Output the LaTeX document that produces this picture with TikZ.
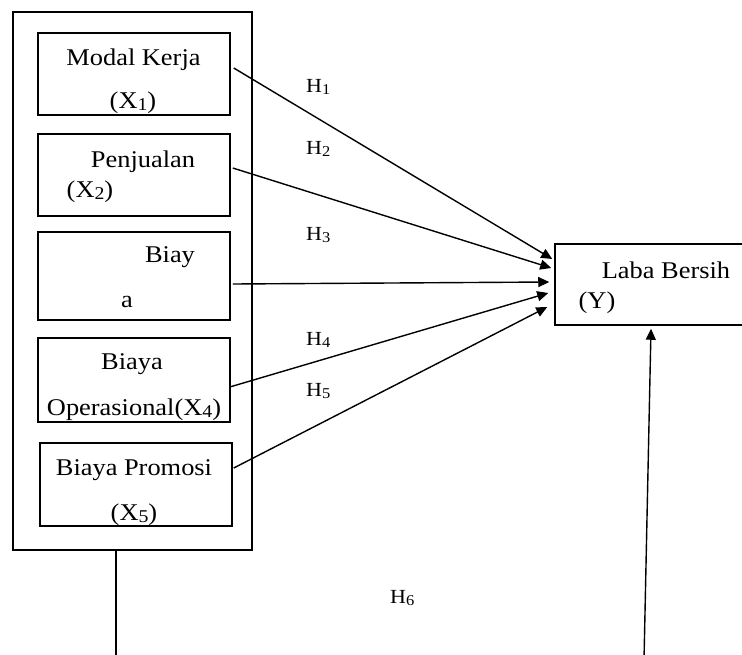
\documentclass[tikz,border=0pt]{standalone}
\usepackage{fontspec}
\usepackage{graphicx}
\setmainfont{Liberation Serif}[FakeStretch=1.1]
\usetikzlibrary{arrows.meta,calc}

% small lowered index digit, as in X1 or H1
\newcommand{\subidx}[1]{\raisebox{-0.12em}{\scalebox{0.75}{#1}}}

\tikzset{
  frame/.style={draw, line width=1.5pt, inner sep=0pt, rectangle},
  lbl/.style={anchor=base, inner sep=0pt, font=\fontsize{24}{28}\selectfont},
  hyp/.style={anchor=base west, inner sep=0pt, font=\fontsize{20}{24}\selectfont},
  link/.style={line width=1.4pt, -{Triangle[length=11pt,width=10pt]}},
  plain/.style={line width=1.5pt}
}

\begin{document}
\begin{tikzpicture}[x=1pt,y=-1pt]
\useasboundingbox (0,0) rectangle (742,654);
\clip (0,0) rectangle (742,654);
\fill[white] (0,0) rectangle (742,654);

% group frame and the five variable boxes
\node[frame, minimum width=239pt, minimum height=538pt] (grp) at (132.5,281) {};
\node[frame, minimum width=192pt, minimum height=82pt] (b1) at (134,74) {};
\node[frame, minimum width=192pt, minimum height=82pt] (b2) at (134,175) {};
\node[frame, minimum width=192pt, minimum height=88pt] (b3) at (134,276) {};
\node[frame, minimum width=192pt, minimum height=84pt] (b4) at (134,380) {};
\node[frame, minimum width=192pt, minimum height=83pt] (b5) at (136,484.5) {};

% dependent variable box (runs past the right edge)
\node[frame, minimum width=205pt, minimum height=81pt] (lb) at (657.5,284.5) {};

% box texts
\node[lbl] (t1a) at (133.5,65) {Modal Kerja};
\node[lbl] (t1b) at (133,108) {(X\subidx{1})};
\node[lbl] (t2a) at (143,167) {Penjualan};
\node[lbl] (t2b) at (90,197) {(X\subidx{2})};
\node[lbl] (t3a) at (170,262) {Biay};
\node[lbl] (t3b) at (127,307) {a};
\node[lbl] (t4a) at (132,369) {Biaya};
\node[lbl] (t4b) at (134,415) {Operasional(X\subidx{4})};
\node[lbl] (t5a) at (134,475) {Biaya Promosi};
\node[lbl] (t5b) at (134,520) {(X\subidx{5})};
\node[lbl] (tya) at (666,278) {Laba Bersih};
\node[lbl] (tyb) at (597,308) {(Y)};

% hypothesis labels
\node[hyp] (h1) at (306,92) {H\subidx{1}};
\node[hyp] (h2) at (306,154) {H\subidx{2}};
\node[hyp] (h3) at (306,240) {H\subidx{3}};
\node[hyp] (h4) at (306,345) {H\subidx{4}};
\node[hyp] (h5) at (306,396) {H\subidx{5}};
\node[hyp] (h6) at (390,603) {H\subidx{6}};

% partial effects
\draw[link] ($(b1.east)+(3,-6)$) -- ($(lb.west)+(-2,-25.5)$);
\draw[link] ($(b2.east)+(2,-7)$) -- ($(lb.west)+(-3,-16.5)$);
\draw[link] ($(b3.east)+(2,8)$) -- ($(lb.west)+(-5,-2.5)$);
\draw[link] ($(b4.east)+(-1,7)$) -- ($(lb.west)+(-6,8.5)$);
\draw[link] ($(b5.east)+(1,-16.5)$) -- ($(lb.west)+(-7,22.5)$);

% simultaneous effect
\coordinate (gdown) at (116,660);
\coordinate (ydown) at (644,660);
\draw[plain] ($(grp.south)+(-16.5,0)$) -- (gdown);
\draw[link] (ydown) -- ($(lb.south)+(-6.5,3)$);
\end{tikzpicture}
\end{document}
